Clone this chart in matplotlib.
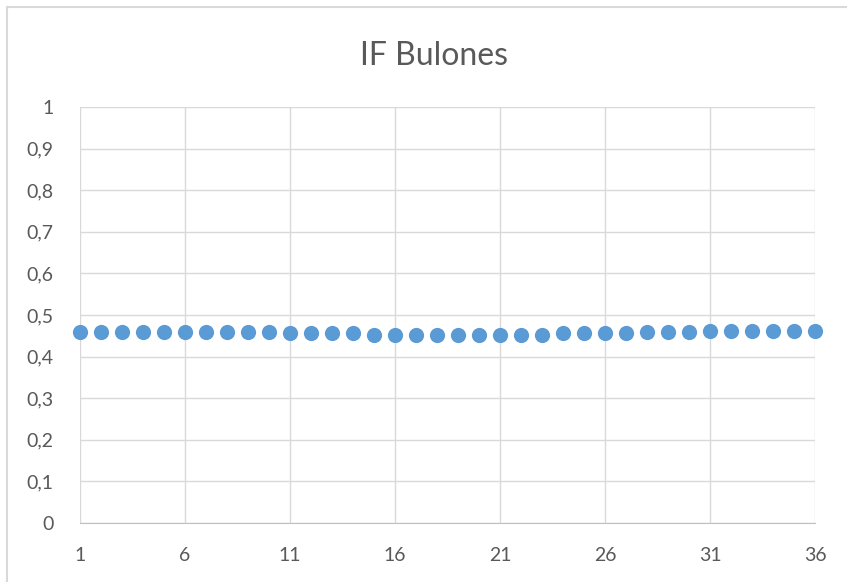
import matplotlib.pyplot as plt
from matplotlib.patches import Rectangle
from matplotlib.ticker import FuncFormatter

# values
periods = list(range(1, 37))
if_bulones = [0.460, 0.460, 0.460, 0.460, 0.460, 0.460, 0.460, 0.458, 0.458, 0.458,
              0.456, 0.456, 0.456, 0.456, 0.452, 0.452, 0.452, 0.452, 0.451, 0.452,
              0.451, 0.451, 0.452, 0.456, 0.456, 0.456, 0.456, 0.458, 0.458, 0.458,
              0.461, 0.461, 0.461, 0.461, 0.461, 0.461]
x_ticks = [1, 6, 11, 16, 21, 26, 31, 36]
y_ticks = [0, 0.1, 0.2, 0.3, 0.4, 0.5, 0.6, 0.7, 0.8, 0.9, 1]

plt.rcParams['font.family'] = ['Lato', 'DejaVu Sans']
text_color = "#595959"
grid_color = "#d9d9d9"

fig = plt.figure(figsize=(8.47, 5.82), dpi=100)
# chart frame like the spreadsheet chart box
fig.patches.append(Rectangle((7 / 847, -0.1), 1.2, 1 - 7 / 582 + 0.1,
                             transform=fig.transFigure, fill=False,
                             edgecolor=grid_color, linewidth=1.5))

ax = fig.add_axes([80 / 847, 1 - 523 / 582, 735 / 847, 416 / 582])
ax.scatter(periods, if_bulones, s=120, color="#5b9bd5", zorder=3,
           linewidths=0, clip_on=False)

ax.set_xlim(1, 36)
ax.set_ylim(0, 1)
ax.set_xticks(x_ticks)
ax.set_yticks(y_ticks)
ax.yaxis.set_major_formatter(FuncFormatter(lambda v, p: f"{v:g}".replace(".", ",")))
ax.grid(True, color=grid_color, linewidth=1)
ax.set_axisbelow(True)
for side in ["top", "right", "left"]:
    ax.spines[side].set_visible(False)
ax.spines["bottom"].set_color("#bfbfbf")
ax.tick_params(length=0, labelsize=14, colors=text_color)
ax.tick_params(axis="x", pad=17)
ax.tick_params(axis="y", pad=19)

fig.text(434 / 847, 1 - 56 / 582, "IF Bulones", ha="center", va="center",
         fontsize=23, color=text_color)

fig.savefig("out.png", dpi=100)
